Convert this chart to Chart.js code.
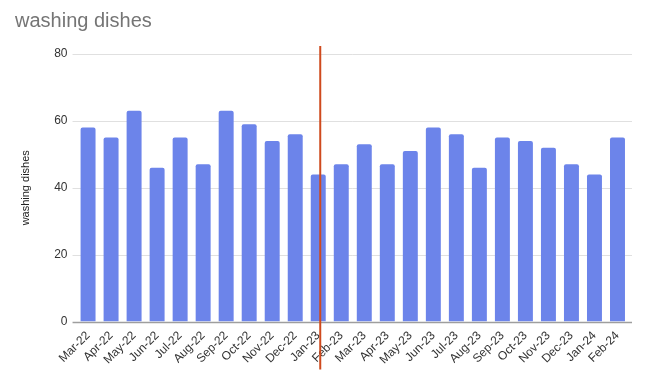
<!DOCTYPE html>
<html>
<head>
<meta charset="utf-8">
<script src="https://cdn.jsdelivr.net/npm/chart.js@4/dist/chart.umd.min.js"></script>
<style>
  html, body { margin: 0; padding: 0; background: #fff; }
  #chart { display: block; }
</style>
</head>
<body>
<canvas id="chart" width="649" height="376"></canvas>
<script>
// months shown on the x axis
const months = [
    "Mar-22", "Apr-22", "May-22", "Jun-22", "Jul-22", "Aug-22", "Sep-22", "Oct-22",
    "Nov-22", "Dec-22", "Jan-23", "Feb-23", "Mar-23", "Apr-23", "May-23", "Jun-23",
    "Jul-23", "Aug-23", "Sep-23", "Oct-23", "Nov-23", "Dec-23", "Jan-24", "Feb-24",
];
// washing dishes count per month
const washingDishes = [
    58, 55, 63, 46, 55, 47, 63, 59,
    54, 56, 44, 47, 53, 47, 51, 58,
    56, 46, 55, 54, 52, 47, 44, 55,
];
const yTicks = [0, 20, 40, 60, 80];
const markerMonth = "Jan-23";

const ctx = document.getElementById("chart").getContext("2d");

// gridlines a bit wider than the bar area, like the sheets chart
const wideGrid = {
    id: "wideGrid",
    beforeDatasetsDraw: (chart) => {
        const c = chart.ctx;
        const area = chart.chartArea;
        const y = chart.scales.y;
        c.save();
        yTicks.forEach((v) => {
            const py = Math.round(y.getPixelForValue(v));
            c.strokeStyle = v === 0 ? "#9e9e9e" : "#e0e0e0";
            c.lineWidth = v === 0 ? 1.5 : 1;
            c.beginPath();
            c.moveTo(area.left - 4, py + 0.5);
            c.lineTo(area.right + 3, py + 0.5);
            c.stroke();
        });
        c.restore();
    },
};

// vertical marker line through one month
const markerLine = {
    id: "markerLine",
    afterDatasetsDraw: (chart) => {
        const c = chart.ctx;
        const x = chart.scales.x.getPixelForValue(months.indexOf(markerMonth)) + 2;
        const area = chart.chartArea;
        c.save();
        c.strokeStyle = "#cf4a1e";
        c.lineWidth = 2;
        c.beginPath();
        c.moveTo(x, area.top - 8);
        c.lineTo(x, area.bottom + 48);
        c.stroke();
        c.restore();
    },
};

new Chart(ctx, {
    type: "bar",
    data: {
        labels: months,
        datasets: [
            {
                label: "washing dishes",
                data: washingDishes,
                backgroundColor: "#6c84ea",
                borderRadius: { topLeft: 2, topRight: 2 },
                borderSkipped: "bottom",
                categoryPercentage: 1,
                barPercentage: 0.65,
            },
        ],
    },
    options: {
        responsive: false,
        animation: false,
        layout: { padding: { left: 15, right: 20, top: 0, bottom: 2 } },
        plugins: {
            legend: { display: false },
            tooltip: { enabled: false },
            title: {
                display: true,
                text: "washing dishes",
                align: "start",
                color: "#757575",
                font: { family: "Liberation Sans, Arial", size: 20, weight: "normal" },
                padding: { top: 9, bottom: 21 },
            },
        },
        scales: {
            x: {
                grid: { display: false, drawTicks: false },
                border: { display: false },
                // rotated labels should not push the plot area inwards
                afterFit: (scale) => {
                    scale.paddingLeft = 0;
                    scale.paddingRight = 0;
                },
                ticks: {
                    color: "#333",
                    padding: 7,
                    minRotation: 45,
                    maxRotation: 45,
                    autoSkip: false,
                    font: { family: "Liberation Sans, Arial", size: 12 },
                },
            },
            y: {
                min: 0,
                max: 80,
                afterBuildTicks: (axis) => {
                    axis.ticks = yTicks.map((v) => ({ value: v }));
                },
                border: { display: false },
                grid: { display: false, drawTicks: false },
                ticks: {
                    color: "#333",
                    padding: 9,
                    font: { family: "Liberation Sans, Arial", size: 12 },
                },
                title: {
                    display: true,
                    text: "washing dishes",
                    color: "#222",
                    font: { family: "Liberation Sans, Arial", size: 11 },
                    padding: { bottom: 13 },
                },
            },
        },
    },
    plugins: [wideGrid, markerLine],
});
</script>
</body>
</html>
